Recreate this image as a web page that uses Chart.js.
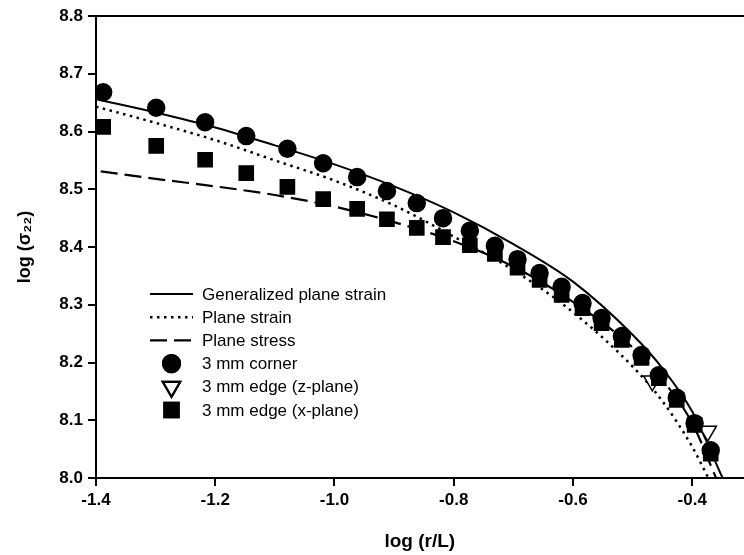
<!DOCTYPE html>
<html>
<head>
<meta charset="utf-8">
<script src="https://cdn.jsdelivr.net/npm/chart.js@4/dist/chart.umd.min.js"></script>
<style>
  html, body { margin: 0; padding: 0; background: #fff; overflow: hidden; }
  /* the plot runs off the right edge in the source figure, so the canvas is a bit wider than the window */
  #wrap { width: 744px; height: 555px; overflow: hidden; }
  canvas { display: block; }
</style>
</head>
<body>
<div id="wrap"><canvas id="stressChart" width="755" height="555"></canvas></div>
<script>
/* ─── Data ───────────────────────────────────────────────────── */
const xTicks = [-1.4, -1.2, -1.0, -0.8, -0.6, -0.4];
const yTicks = [8.0, 8.1, 8.2, 8.3, 8.4, 8.5, 8.6, 8.7, 8.8];

// measured points (same r positions for corner and x-plane edge)
const measuredR = [-1.388, -1.299, -1.217, -1.148, -1.079, -1.019, -0.962, -0.912, -0.862, -0.818,
                   -0.773, -0.731, -0.693, -0.656, -0.619, -0.584, -0.552, -0.518, -0.485, -0.456,
                   -0.426, -0.396, -0.369];
const cornerVals = [8.668, 8.641, 8.616, 8.592, 8.570, 8.545, 8.521, 8.497, 8.476, 8.450,
                    8.428, 8.402, 8.379, 8.355, 8.331, 8.303, 8.277, 8.246, 8.213, 8.178,
                    8.139, 8.095, 8.048];
const edgeXVals  = [8.608, 8.575, 8.551, 8.528, 8.504, 8.483, 8.466, 8.448, 8.433, 8.417,
                    8.403, 8.388, 8.364, 8.343, 8.317, 8.294, 8.268, 8.239, 8.208, 8.173,
                    8.135, 8.092, 8.042];
const edgeZR     = [-0.467, -0.374];
const edgeZVals  = [8.168, 8.081];

// model curves
const genStrainR    = [-1.4, -1.3, -1.2, -1.1, -1.0, -0.9, -0.8, -0.7, -0.6, -0.5, -0.45, -0.4, -0.349];
const genStrainVals = [8.656, 8.633, 8.607, 8.576, 8.543, 8.505, 8.460, 8.405, 8.340, 8.248, 8.190, 8.115, 8.0];
const planeStrainR    = [-1.4, -1.3, -1.2, -1.1, -1.0, -0.9, -0.8, -0.7, -0.6, -0.5, -0.45, -0.4, -0.373];
const planeStrainVals = [8.643, 8.615, 8.585, 8.550, 8.515, 8.472, 8.418, 8.360, 8.287, 8.193, 8.133, 8.054, 8.0];
const planeStressR    = [-1.392, -1.3, -1.2, -1.1, -1.0, -0.9, -0.8, -0.7, -0.6, -0.5, -0.45, -0.4, -0.36];
const planeStressVals = [8.531, 8.518, 8.505, 8.490, 8.470, 8.443, 8.410, 8.366, 8.305, 8.226, 8.170, 8.095, 8.0];

const FONT = '"Liberation Sans", Arial, Helvetica, sans-serif';

/* ─── Helpers ────────────────────────────────────────────────── */
const toPoints = (xs, ys) => xs.map((x, i) => ({ x, y: ys[i] }));

const lineSet = (label, xs, ys, dash, width) => ({
  label,
  data: toPoints(xs, ys),
  showLine: true,
  borderColor: '#000',
  borderWidth: width,
  borderDash: dash,
  borderCapStyle: 'butt',
  cubicInterpolationMode: 'monotone',
  pointRadius: 0,
  fill: false,
  legendKind: 'line',
});

const pointSet = (label, xs, ys, style, radius, fill, rotation) => ({
  label,
  data: toPoints(xs, ys),
  showLine: false,
  pointStyle: style,
  pointRadius: radius,
  pointRotation: rotation || 0,
  pointBackgroundColor: fill,
  pointBorderColor: '#000',
  pointBorderWidth: 1.5,
  legendKind: 'point',
});

/* ─── Plugins ────────────────────────────────────────────────── */
const topBorder = {
  id: 'topBorder',
  afterDraw(chart) {
    const { ctx, chartArea: a } = chart;
    ctx.save();
    ctx.strokeStyle = '#000';
    ctx.lineWidth = 2;
    ctx.beginPath();
    ctx.moveTo(a.left - 1, a.top);
    ctx.lineTo(chart.width, a.top);
    ctx.stroke();
    ctx.restore();
  },
};

// legend sitting inside the plot, lower left
const insideLegend = {
  id: 'insideLegend',
  afterDatasetsDraw(chart, args, opts) {
    const { ctx } = chart;
    ctx.save();
    ctx.font = `17px ${FONT}`;
    ctx.textBaseline = 'middle';
    ctx.fillStyle = '#000';
    opts.order.forEach((idx, row) => {
      const ds = chart.data.datasets[idx];
      const y = opts.y + row * opts.rowGap;
      const cx = (opts.x0 + opts.x1) / 2;
      ctx.strokeStyle = '#000';
      if (ds.legendKind === 'line') {
        ctx.lineWidth = ds.borderWidth;
        ctx.setLineDash(ds.borderDash || []);
        ctx.beginPath();
        ctx.moveTo(opts.x0, y);
        ctx.lineTo(opts.x1, y);
        ctx.stroke();
        ctx.setLineDash([]);
      } else {
        Chart.helpers.drawPoint(ctx, {
          pointStyle: ds.pointStyle,
          radius: ds.pointRadius,
          rotation: ds.pointRotation,
          borderWidth: 2,
        }, cx, y);
        ctx.fillStyle = ds.pointBackgroundColor;
        ctx.fill();
        ctx.stroke();
        ctx.fillStyle = '#000';
      }
      ctx.fillText(ds.label, opts.textX, y + 1);
    });
    ctx.restore();
  },
};

/* ─── Chart ──────────────────────────────────────────────────── */
const datasets = [
  pointSet('3 mm corner', measuredR, cornerVals, 'circle', 8.5, '#000'),
  pointSet('3 mm edge (x-plane)', measuredR, edgeXVals, 'rect', 10, '#000'),
  pointSet('3 mm edge (z-plane)', edgeZR, edgeZVals, 'triangle', 10, '#fff', 180),
  lineSet('Generalized plane strain', genStrainR, genStrainVals, [], 2),
  lineSet('Plane strain', planeStrainR, planeStrainVals, [2.5, 4.5], 2.5),
  lineSet('Plane stress', planeStressR, planeStressVals, [17, 7], 2.2),
];

const tickFont = { family: FONT, size: 17, weight: 'bold' };

new Chart(document.getElementById('stressChart'), {
  type: 'scatter',
  data: { datasets },
  options: {
    responsive: false,
    animation: false,
    events: [],
    layout: { padding: { top: 16, right: 0, left: 0, bottom: 0 } },
    plugins: {
      legend: { display: false },
      tooltip: { enabled: false },
      insideLegend: { order: [3, 4, 5, 0, 2, 1], x0: 150, x1: 193, textX: 202, y: 294, rowGap: 23.2 },
    },
    scales: {
      x: {
        type: 'linear',
        min: -1.4,
        max: -0.314,
        afterBuildTicks: (s) => { s.ticks = xTicks.map(v => ({ value: v })); },
        afterFit: (s) => { s.height = 77; s.paddingLeft = 0; s.paddingRight = 0; },
        grid: { display: true, drawOnChartArea: false, drawTicks: true, tickLength: 8, color: '#000', lineWidth: 2 },
        border: { display: true, color: '#000', width: 2 },
        ticks: { color: '#000', font: tickFont, padding: 4, maxRotation: 0, callback: v => v.toFixed(1) },
        title: {
          display: true, text: 'log (r/L)', color: '#000',
          font: { family: FONT, size: 19, weight: 'bold' },
          padding: { top: 0, bottom: 2 },
        },
      },
      y: {
        type: 'linear',
        min: 8.0,
        max: 8.8,
        afterBuildTicks: (s) => { s.ticks = yTicks.map(v => ({ value: v })); },
        afterFit: (s) => { s.width = 96; s.paddingTop = 0; s.paddingBottom = 0; },
        grid: { display: true, drawOnChartArea: false, drawTicks: true, tickLength: 8, color: '#000', lineWidth: 2 },
        border: { display: true, color: '#000', width: 2 },
        ticks: { color: '#000', font: tickFont, padding: 5, callback: v => v.toFixed(1) },
        title: {
          display: true, text: 'log (σ₂₂)', color: '#000',
          font: { family: FONT, size: 18, weight: 'bold' },
          padding: { top: 14, bottom: 0 },
        },
      },
    },
  },
  plugins: [topBorder, insideLegend],
});
</script>
</body>
</html>
